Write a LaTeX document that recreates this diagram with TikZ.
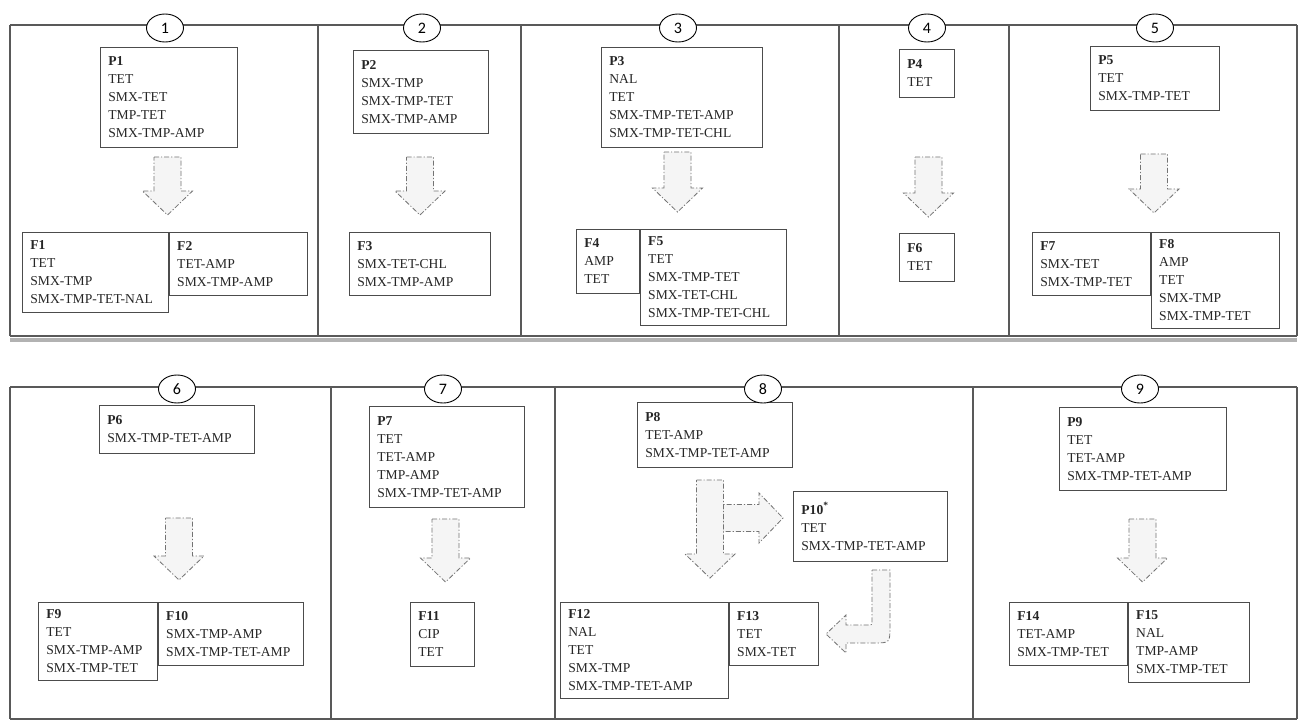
\documentclass[tikz,border=0pt]{standalone}
\usepackage{fontspec}
\setmainfont{Liberation Serif}
\newfontfamily\numfont{Carlito}
\usepackage{tikz}
\usetikzlibrary{shapes.geometric, positioning}

\begin{document}
\begin{tikzpicture}[x=1pt, y=-1pt,
  box/.style={draw=black!70, line width=0.8pt, fill=white, anchor=north west, align=left,
    inner xsep=8pt, inner ysep=7pt, font=\fontsize{13.6}{18}\selectfont, text=black!85},
  num/.style={draw=black, line width=0.9pt, fill=white, ellipse, minimum width=37pt,
    minimum height=28pt, inner sep=0pt, font=\numfont\fontsize{16}{16}\selectfont},
  panelline/.style={draw=black!65, line width=2.2pt},
  panelshadow/.style={draw=black!30, line width=4pt},
  blockarr/.style={draw=black!55, fill=black!4, line width=0.8pt,
    dash pattern=on 5pt off 2pt on 1.2pt off 2pt},
  pics/downarr/.style={code={
    \draw[blockarr] (-13.5,0) -- (13.5,0) -- (13.5,#1-24) -- (25,#1-24) -- (0,#1)
      -- (-25,#1-24) -- (-13.5,#1-24) -- cycle;}}]

  \useasboundingbox[fill=white] (0,0) rectangle (1299,721);

  % panel frames, top row
  \draw[panelshadow] (10,340) -- (1297,340);
  \draw[panelline] (10,25) -- (1297,25);
  \draw[panelline] (10,336) -- (1297,336);
  \foreach \xx in {10,318,521,839,1009,1297}
    \draw[panelline] (\xx,25) -- (\xx,336);

  % panel frames, bottom row
  \draw[panelline] (10,387) -- (1297,387);
  \draw[panelline] (10,719) -- (1297,719);
  \foreach \xx in {10,331,555,973,1297}
    \draw[panelline] (\xx,387) -- (\xx,719);

  % 1
  \node[box, text width=121pt, minimum height=100pt] (p1) at (100,47)
    {\textbf{P1}\\TET\\SMX-TET\\TMP-TET\\SMX-TMP-AMP};
  \node[box, text width=130pt, minimum height=80pt] (f1) at (22,232)
    {\textbf{F1}\\TET\\SMX-TMP\\SMX-TMP-TET-NAL};
  \node[box, text width=122pt, minimum height=63pt] (f2) at (f1.north east)
    {\textbf{F2}\\TET-AMP\\SMX-TMP-AMP};

  % 2
  \node[box, text width=119pt, minimum height=83pt] (p2) at (353,50)
    {\textbf{P2}\\SMX-TMP\\SMX-TMP-TET\\SMX-TMP-AMP};
  \node[box, text width=125pt, minimum height=63pt] (f3) at (349,232)
    {\textbf{F3}\\SMX-TET-CHL\\SMX-TMP-AMP};

  % 3
  \node[box, text width=145pt, minimum height=100pt] (p3) at (601,47)
    {\textbf{P3}\\NAL\\TET\\SMX-TMP-TET-AMP\\SMX-TMP-TET-CHL};
  \node[box, text width=47pt, minimum height=64pt] (f4) at (576,229)
    {\textbf{F4}\\AMP\\TET};
  \node[box, text width=130pt, minimum height=96pt] (f5) at (f4.north east)
    {\textbf{F5}\\TET\\SMX-TMP-TET\\SMX-TET-CHL\\SMX-TMP-TET-CHL};

  % 4
  \node[box, text width=39pt, minimum height=48pt] (p4) at (899,49)
    {\textbf{P4}\\TET};
  \node[box, text width=39pt, minimum height=48pt] (f6) at (899,233)
    {\textbf{F6}\\TET};

  % 5
  \node[box, text width=113pt, minimum height=64pt] (p5) at (1090,46)
    {\textbf{P5}\\TET\\SMX-TMP-TET};
  \node[box, text width=102pt, minimum height=63pt] (f7) at (1032,232)
    {\textbf{F7}\\SMX-TET\\SMX-TMP-TET};
  \node[box, text width=112pt, minimum height=96pt] (f8) at (f7.north east)
    {\textbf{F8}\\AMP\\TET\\SMX-TMP\\SMX-TMP-TET};

  % 6
  \node[box, text width=139pt, minimum height=48pt] (p6) at (99,405)
    {\textbf{P6}\\SMX-TMP-TET-AMP};
  \node[box, text width=103pt, minimum height=78pt] (f9) at (38,602)
    {\textbf{F9}\\TET\\SMX-TMP-AMP\\SMX-TMP-TET};
  \node[box, text width=129pt, minimum height=63pt] (f10) at (f9.north east)
    {\textbf{F10}\\SMX-TMP-AMP\\SMX-TMP-TET-AMP};

  % 7
  \node[box, text width=139pt, minimum height=101pt] (p7) at (369,406)
    {\textbf{P7}\\TET\\TET-AMP\\TMP-AMP\\SMX-TMP-TET-AMP};
  \node[box, text width=48pt, minimum height=64pt] (f11) at (410,602)
    {\textbf{F11}\\CIP\\TET};

  % 8
  \node[box, text width=139pt, minimum height=65pt] (p8) at (637,402)
    {\textbf{P8}\\TET-AMP\\SMX-TMP-TET-AMP};
  \node[box, text width=138pt, minimum height=70pt] (p10) at (793,491)
    {\textbf{P10\textsuperscript{*}}\\TET\\SMX-TMP-TET-AMP};
  \node[box, text width=152pt, minimum height=96pt] (f12) at (560,602)
    {\textbf{F12}\\NAL\\TET\\SMX-TMP\\SMX-TMP-TET-AMP};
  \node[box, text width=73pt, minimum height=63pt] (f13) at (f12.north east)
    {\textbf{F13}\\TET\\SMX-TET};

  % 9
  \node[box, text width=151pt, minimum height=83pt] (p9) at (1059,407)
    {\textbf{P9}\\TET\\TET-AMP\\SMX-TMP-TET-AMP};
  \node[box, text width=102pt, minimum height=63pt] (f14) at (1009,602)
    {\textbf{F14}\\TET-AMP\\SMX-TMP-TET};
  \node[box, text width=105pt, minimum height=80pt] (f15) at (f14.north east)
    {\textbf{F15}\\NAL\\TMP-AMP\\SMX-TMP-TET};

  % block arrows
  \coordinate (a1) at (167.5,157);
  \coordinate (a2) at (420,157);
  \coordinate (a3) at (677.5,152);
  \coordinate (a4) at (928.5,157);
  \coordinate (a5) at (1154,154);
  \coordinate (a6) at (179,518);
  \coordinate (a7) at (445.5,519);
  \coordinate (a8) at (710,480);
  \coordinate (a8r) at (723,518);
  \coordinate (a9) at (1142.5,519);
  \pic at (a1) {downarr=58};
  \pic at (a2) {downarr=58};
  \pic at (a3) {downarr=60};
  \pic at (a4) {downarr=60};
  \pic at (a5) {downarr=59};
  \pic at (a6) {downarr=62};
  \pic at (a7) {downarr=63};
  \pic[rotate=90] at (a8r) {downarr=60};
  \pic at (a8) {downarr=98};
  \pic at (a9) {downarr=63};
  \draw[blockarr] (872,570) -- (890,570) -- (890,626) .. controls (890,643) .. (873,643)
    -- (846,643) -- (846,653) -- (826,634) -- (846,615) -- (846,625) -- (868,625)
    .. controls (872,625) .. (872,621) -- cycle;

  % numbers
  \node[num] (n1) at (165,28) {1};
  \node[num] (n2) at (422,28) {2};
  \node[num] (n3) at (678,28) {3};
  \node[num] (n4) at (927,28) {4};
  \node[num] (n5) at (1155,28) {5};
  \node[num] (n6) at (177,389) {6};
  \node[num] (n7) at (443,389) {7};
  \node[num] (n8) at (763,389) {8};
  \node[num] (n9) at (1140,389) {9};
\end{tikzpicture}
\end{document}
